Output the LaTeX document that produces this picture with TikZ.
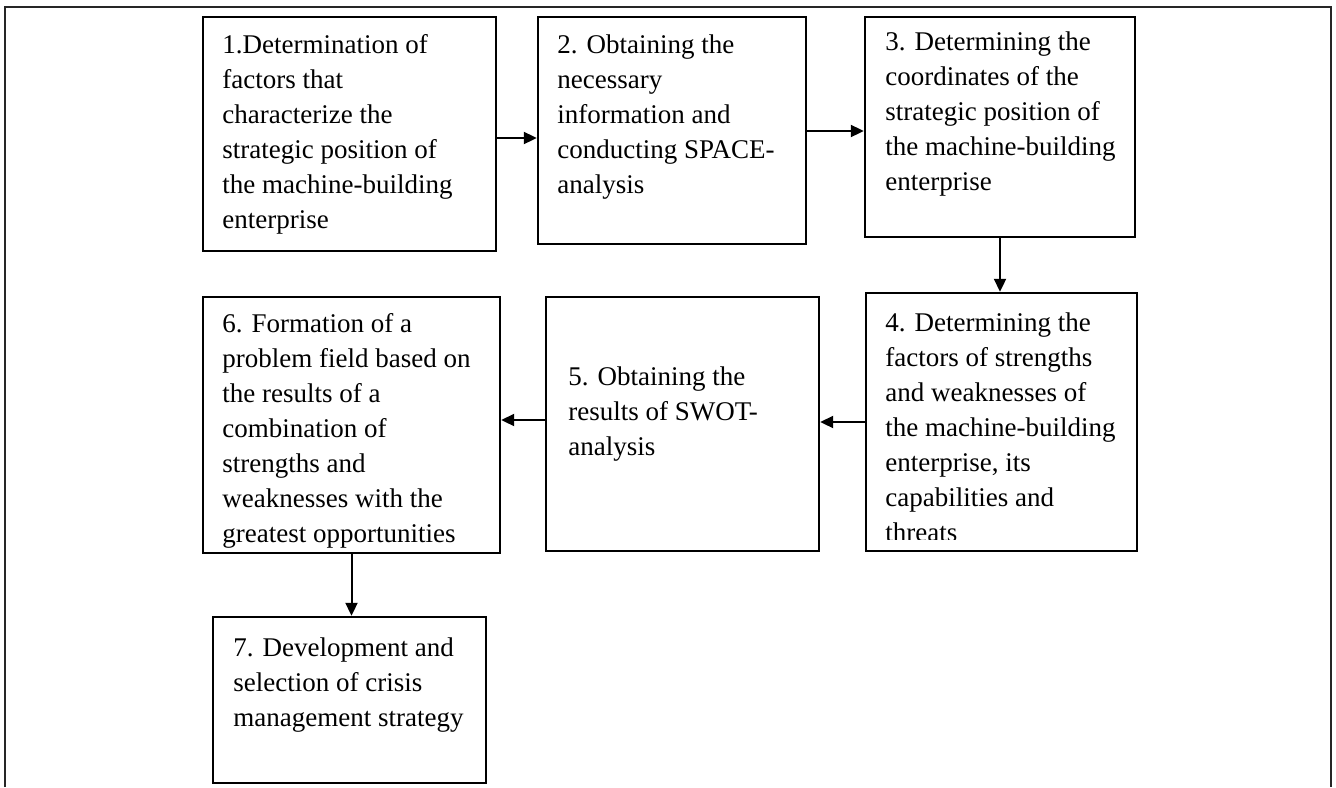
\documentclass[tikz,border=0pt]{standalone}
\usepackage{fontspec}
\setmainfont{Liberation Serif}
\usetikzlibrary{arrows.meta,fit}
\tikzset{
  boxnode/.style={draw, line width=1.2pt, inner sep=0pt},
  txt/.style={align=left, inner sep=0pt, anchor=north west, font=\fontsize{13.5}{17.5}\selectfont},
  arr/.style={line width=1pt, -{Triangle[length=6.5pt,width=6pt]}},
  frameline/.style={line width=1.1pt, draw=black!85}
}
\begin{document}
\begin{tikzpicture}[x=0.5pt,y=-0.5pt]
\useasboundingbox (0,0) rectangle (1336,787);
\draw[frameline] (5,787) -- (5,7) -- (1331,7) -- (1331,787);

\node[boxnode, fit={(203,17) (496,251)}] (b1) {};
\node[boxnode, fit={(538,17) (806,244)}] (b2) {};
\node[boxnode, fit={(865,17) (1135,237)}] (b3) {};
\node[boxnode, fit={(866,293) (1137,551)}] (b4) {};
\node[boxnode, fit={(546,297) (819,551)}] (b5) {};
\node[boxnode, fit={(203,297) (500,553)}] (b6) {};
\node[boxnode, fit={(213,617) (486,783)}] (b7) {};

\node[txt] (t1) at (222,34.5) {1.Determination of\\factors that\\characterize the\\strategic position of\\the machine-building\\enterprise};
\node[txt] (t2) at (557,34.5) {2. Obtaining the\\necessary\\information and\\conducting SPACE-\\analysis};
\node[txt] (t3) at (885,31.5) {3. Determining the\\coordinates of the\\strategic position of\\the machine-building\\enterprise};
\begin{scope}
\clip (866,293) rectangle (1137,539);
\node[txt] (t4) at (885,312.5) {4. Determining the\\factors of strengths\\and weaknesses of\\the machine-building\\enterprise, its\\capabilities and\\threats};
\end{scope}
\node[txt] (t5) at (568,366.5) {5. Obtaining the\\results of SWOT-\\analysis};
\node[txt] (t6) at (222,313.5) {6. Formation of a\\problem field based on\\the results of a\\combination of\\strengths and\\weaknesses with the\\greatest opportunities};
\node[txt] (t7) at (233,637.5) {7. Development and\\selection of crisis\\management strategy};

\coordinate (y12) at (0,138);
\coordinate (y23) at (0,131);
\coordinate (y56) at (0,420);
\draw[arr] (b1.east |- y12) -- (b2.west |- y12);
\draw[arr] (b2.east |- y23) -- (b3.west |- y23);
\draw[arr] (b3.south) -- (b3.south |- b4.north);
\draw[arr] (b4.west) -- (b5.east |- b4.west);
\draw[arr] (b5.west |- y56) -- (b6.east |- y56);
\draw[arr] (b6.south) -- (b6.south |- b7.north);
\end{tikzpicture}
\end{document}
